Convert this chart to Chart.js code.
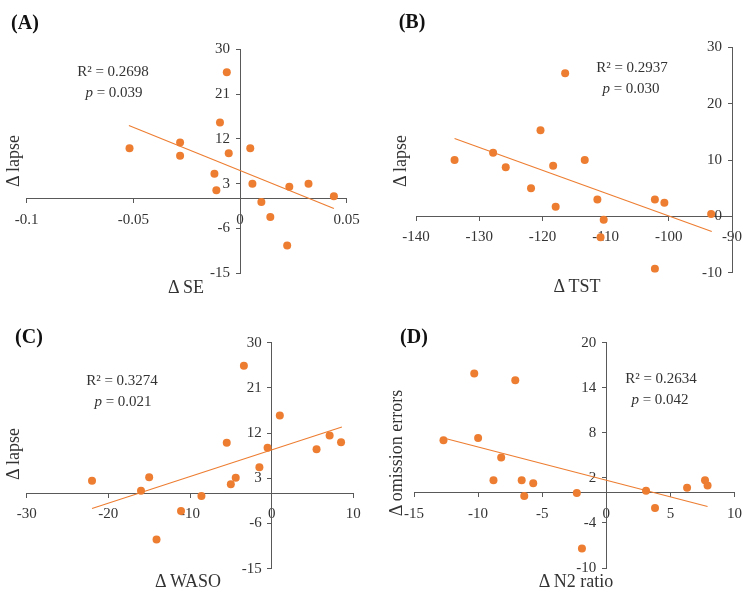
<!DOCTYPE html>
<html><head><meta charset="utf-8">
<script src="https://cdn.jsdelivr.net/npm/chart.js@4.4.1/dist/chart.umd.min.js"></script>
<style>
html,body{margin:0;padding:0;background:#fff;}
#wrap{position:relative;width:750px;height:591px;overflow:hidden;font-family:'Liberation Serif','Times New Roman',serif;color:#262626;}
#wrap canvas{position:absolute;}
.t{position:absolute;white-space:nowrap;line-height:1;transform:translate(-50%,-50%);}
.lab{font-size:20px;font-weight:bold;color:#111;}
.ann{font-size:15px;color:#333;}
.tit{font-size:18px;color:#333;}
.rot{transform:translate(-50%,-50%) rotate(-90deg);}
</style></head><body>
<div id="wrap">
<canvas id="cA" width="375" height="295" style="left:0;top:0"></canvas>
<canvas id="cB" width="375" height="295" style="left:375px;top:0"></canvas>
<canvas id="cC" width="375" height="296" style="left:0;top:295px"></canvas>
<canvas id="cD" width="375" height="296" style="left:375px;top:295px"></canvas>

<div class="t lab" style="left:25px;top:22px">(A)</div>
<div class="t lab" style="left:412px;top:21px">(B)</div>
<div class="t lab" style="left:29px;top:336px">(C)</div>
<div class="t lab" style="left:414px;top:336px">(D)</div>

<div class="t ann" style="left:113px;top:71px">R² = 0.2698</div>
<div class="t ann" style="left:114px;top:92px"><i>p</i> = 0.039</div>
<div class="t ann" style="left:632px;top:67px">R² = 0.2937</div>
<div class="t ann" style="left:631px;top:88px"><i>p</i> = 0.030</div>
<div class="t ann" style="left:122px;top:380px">R² = 0.3274</div>
<div class="t ann" style="left:123px;top:401px"><i>p</i> = 0.021</div>
<div class="t ann" style="left:661px;top:378px">R² = 0.2634</div>
<div class="t ann" style="left:660px;top:399px"><i>p</i> = 0.042</div>

<div class="t tit" style="left:186px;top:287px">Δ SE</div>
<div class="t tit" style="left:577px;top:286px">Δ TST</div>
<div class="t tit" style="left:188px;top:581px">Δ WASO</div>
<div class="t tit" style="left:576px;top:581px">Δ N2 ratio</div>
<div class="t tit rot" style="left:13px;top:161px">Δ lapse</div>
<div class="t tit rot" style="left:400px;top:161px">Δ lapse</div>
<div class="t tit rot" style="left:13px;top:454px">Δ lapse</div>
<div class="t tit rot" style="left:396px;top:453px">Δ omission errors</div>
</div>
<script>
// ---- Data ----
const seX = [-0.0518,-0.0281,-0.0281,-0.0062,-0.0094,-0.0053,-0.0120,-0.0111,0.0048,0.0058,0.0100,0.0142,0.0231,0.0321,0.0440,0.0221];
const seLapse = [10.1,11.3,8.6,25.4,15.3,9.1,5.0,1.7,10.1,3.0,-0.7,-3.7,2.4,3.0,0.5,-9.4];
const seTrendX = [-0.0521,0.0440];
const seTrendY = [14.7,-2.0];
const seTicksX = [-0.1,-0.05,0,0.05];
const seTickLabelsX = ['-0.1','-0.05','0','0.05'];
const seTicksY = [-15,-6,3,12,21,30];

const tstX = [-133.9,-127.8,-125.8,-121.8,-120.3,-118.3,-117.9,-116.4,-113.3,-111.3,-110.3,-110.8,-102.2,-100.7,-102.2,-93.3];
const tstLapse = [10.0,11.3,8.7,5.0,15.3,9.0,1.7,25.4,10.0,3.0,-0.6,-3.7,3.0,2.4,-9.3,0.4];
const tstTrendX = [-133.9,-93.2];
const tstTrendY = [13.8,-2.7];
const tstTicksX = [-140,-130,-120,-110,-100,-90];
const tstTicksY = [-10,0,10,20,30];

const wasoX = [-22.0,-16.0,-15.0,-14.1,-11.1,-8.6,-5.5,-5.0,-4.4,-3.4,-1.5,-0.5,1.0,5.5,7.1,8.5];
const wasoLapse = [2.5,0.5,3.2,-9.2,-3.5,-0.5,10.1,1.8,3.1,25.4,5.2,9.1,15.5,8.8,11.5,10.2];
const wasoTrendX = [-22.0,8.6];
const wasoTrendY = [-3.0,13.2];
const wasoTicksX = [-30,-20,-10,0,10];
const wasoTicksY = [-15,-6,3,12,21,30];

const n2X = [-12.7,-10.3,-10.0,-8.8,-8.2,-7.1,-6.6,-6.4,-5.7,-2.3,-1.9,3.1,3.8,6.3,7.7,7.9];
const n2Omission = [7.0,15.9,7.3,1.7,4.7,15.0,1.7,-0.4,1.3,0.0,-7.4,0.3,-2.0,0.7,1.7,1.0];
const n2TrendX = [-12.7,7.9];
const n2TrendY = [7.3,-1.8];
const n2TicksX = [-15,-10,-5,0,5,10];
const n2TicksY = [-10,-4,2,8,14,20];

// ---- Styling ----
const ORANGE = '#ED7D31';
const AXIS = '#595959';
const TXT = '#333333';
const SERIF = "'Liberation Serif','Times New Roman',serif";

function pts(xs, ys){ return xs.map((x,i)=>({x:x, y:ys[i]})); }

// Move y tick labels to the left of a crossing y axis (tick length + padding)
const yLabelShift = {
  id: 'yLabelShift',
  beforeDraw(chart) {
    const s = chart.scales.y;
    const items = s.getLabelItems(chart.chartArea);
    if (items._shifted) return;
    const off = s.options.grid.tickLength + s.options.ticks.padding;
    items.forEach(it => {
      const tr = it.options.translation;
      it.options.translation = [tr[0] - off, tr[1]];
    });
    items._shifted = true;
  }
};

function makePanel(id, box, xs, ys, tx, ty, xTicks, yTicks, xLabels, crossX){
  const pad = {left: box.L - box.ox, right: box.ox + box.w - box.R, top: box.T - box.oy, bottom: box.oy + box.h - box.B};
  const tickFont = {family: SERIF, size: 15};
  new Chart(document.getElementById(id), {
    type: 'scatter',
    data: {datasets: [
      {data: pts(tx, ty), showLine: true, borderColor: ORANGE, borderWidth: 1.1, pointRadius: 0, fill: false},
      {data: pts(xs, ys), backgroundColor: ORANGE, borderColor: ORANGE, borderWidth: 0, pointRadius: 4}
    ]},
    plugins: [yLabelShift],
    options: {
      responsive: false, animation: false, events: [],
      layout: {padding: pad},
      plugins: {legend: {display: false}, tooltip: {enabled: false}},
      scales: {
        x: {
          type: 'linear', min: xTicks[0], max: xTicks[xTicks.length-1],
          position: {y: 0},
          afterBuildTicks: s => { s.ticks = xTicks.map(v => ({value: v})); },
          afterFit: s => { s.height = 0; },
          grid: {drawOnChartArea: false, drawTicks: true, tickLength: 4, tickColor: AXIS, tickWidth: 1},
          border: {display: true, color: AXIS, width: 1},
          ticks: {autoSkip: false, maxRotation: 0, minRotation: 0, padding: 8, color: TXT, font: tickFont,
                  callback: (v, i) => xLabels ? xLabels[i] : String(xTicks[i])}
        },
        y: {
          type: 'linear', min: yTicks[0], max: yTicks[yTicks.length-1],
          position: {x: crossX},
          afterBuildTicks: s => { s.ticks = yTicks.map(v => ({value: v})); },
          afterFit: s => { s.width = 0; },
          grid: {drawOnChartArea: false, drawTicks: true, tickLength: 4, tickColor: AXIS, tickWidth: 1},
          border: {display: true, color: AXIS, width: 1},
          ticks: {autoSkip: false, padding: 6, color: TXT, font: tickFont,
                  callback: (v, i) => String(yTicks[i])}
        }
      }
    }
  });
}

makePanel('cA', {ox:0, oy:0, w:375, h:295, L:26.7, R:346.7, T:49.3, B:273.3}, seX, seLapse, seTrendX, seTrendY, seTicksX, seTicksY, seTickLabelsX, 0);
makePanel('cB', {ox:375, oy:0, w:375, h:295, L:416, R:736, T:47.3, B:272.7}, tstX, tstLapse, tstTrendX, tstTrendY, tstTicksX, tstTicksY, null, -90);
makePanel('cC', {ox:0, oy:295, w:375, h:296, L:26.7, R:353.3, T:342.7, B:568.7}, wasoX, wasoLapse, wasoTrendX, wasoTrendY, wasoTicksX, wasoTicksY, null, 0);
makePanel('cD', {ox:375, oy:295, w:375, h:296, L:414, R:740, T:342.7, B:568}, n2X, n2Omission, n2TrendX, n2TrendY, n2TicksX, n2TicksY, null, 0);
</script>
</body></html>
